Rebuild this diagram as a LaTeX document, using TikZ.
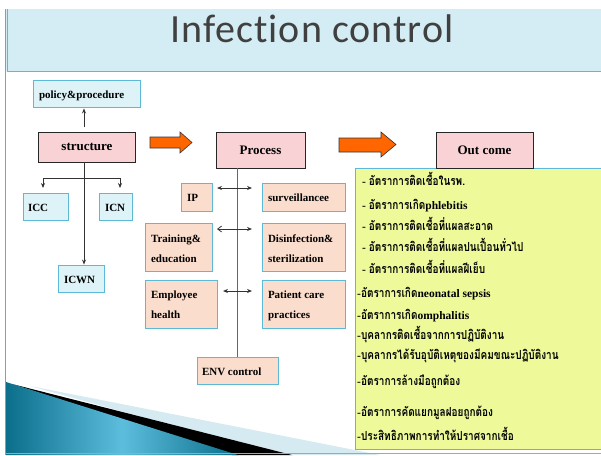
\documentclass[tikz,border=0pt]{standalone}
\usepackage{fontspec}
\setmainfont{Liberation Serif}
\newfontfamily\thaifont[Script=Thai,FakeStretch=0.8]{Loma}
\newfontfamily\titlefont[LetterSpace=2.5,Ligatures={NoCommon,NoRequired,NoContextual}]{Carlito}
\usetikzlibrary{arrows.meta}
\definecolor{bandfill}{HTML}{D4EDF4}
\definecolor{bandline}{HTML}{4EC0D8}
\definecolor{pinkfill}{HTML}{F8D2D5}
\definecolor{bluefill}{HTML}{DDF3F8}
\definecolor{blueline}{HTML}{5DBAD6}
\definecolor{peachfill}{HTML}{FADDCC}
\definecolor{yellowfill}{HTML}{EEFA9A}
\definecolor{orangefill}{HTML}{FF6600}
\definecolor{tealdark}{HTML}{0B6E8B}
\definecolor{teallight}{HTML}{5CBEDC}
\definecolor{swooshlight}{HTML}{D6EAF1}
\definecolor{titlegray}{HTML}{404040}
\tikzset{
  boxtxt/.style={font=\bfseries\fontsize{11}{20}\selectfont, inner sep=0pt, outer sep=0pt},
  pinkbox/.style={draw=black!85, line width=0.9pt, fill=pinkfill, font=\bfseries\fontsize{13}{15}\selectfont, inner sep=0pt},
  bluebox/.style={draw=blueline, line width=0.9pt, fill=bluefill, inner sep=0pt},
  peachbox/.style={draw=blueline, line width=0.9pt, fill=peachfill, inner sep=0pt},
  bigarrow/.style={draw=black!80, line width=0.6pt, fill=orangefill, line join=miter},
  conn/.style={draw=black!80, line width=0.8pt},
  tipd/.style={-{Stealth[length=5pt,width=4pt]}},
  dbl/.style={{Stealth[length=5pt,width=4pt]}-{Stealth[length=5pt,width=4pt]}},
  thline/.style={anchor=base west, inner sep=0pt, font=\bfseries\fontsize{11.5}{13}\selectfont}
}
\newcommand{\thx}[1]{{\thaifont\bfseries\fontsize{12.5}{14}\selectfont #1}}
\begin{document}
\begin{tikzpicture}[x=1pt,y=-1pt]
\useasboundingbox (0,0) rectangle (601,455);
\fill[white] (0,0) rectangle (601,455);
% title band
\fill[bandfill] (6,9) rectangle (601,71);
\draw[bandline, line width=0.9pt] (6.5,71) -- (601,71);
\draw[bandline, line width=0.9pt] (7,9) -- (7,71);
\draw[black!40, line width=1.2pt] (5.5,9) -- (5.5,455);
\node[anchor=base, inner sep=0pt, text=titlegray, font=\titlefont\fontsize{40}{42}\selectfont] (title) at (312,42) {Infection control};

% bottom-left swoosh
\fill[swooshlight] (30,386) -- (380,455) -- (280,455) -- cycle;
\fill[black] (12,384) -- (292,455) -- (232,455) -- cycle;
\shade[left color=tealdark, right color=tealdark, middle color=teallight] (6,382) -- (238,455) -- (6,455) -- cycle;
\draw[black!35, line width=1pt] (6,453.5) -- (601,453.5);

% yellow outcome box
\filldraw[fill=yellowfill, draw=blueline, line width=0.9pt] (355,168.5) rectangle (605,449);

% structure part
\node[bluebox, minimum width=107pt, minimum height=27pt] (policy) at (86.5,94) {};
\node[boxtxt, anchor=base west] (policyt) at (39,98) {policy\&procedure};
\node[pinkbox, minimum width=97pt, minimum height=30pt] (structure) at (87,147) {structure};
\node[bluebox, minimum width=45pt, minimum height=27pt] (icc) at (45.5,206.5) {};
\node[boxtxt, anchor=base west] at (28,211) {ICC};
\node[bluebox, minimum width=33pt, minimum height=27pt] (icn) at (115.5,206.5) {};
\node[boxtxt, anchor=base west] at (105,211) {ICN};
\node[bluebox, minimum width=46pt, minimum height=27pt] (icwn) at (81,278.5) {};
\node[boxtxt, anchor=base west] at (64,283) {ICWN};

\coordinate (sl) at (43,178);
\coordinate (sr) at (120,178);
\draw[conn, tipd, shorten <=5pt, shorten >=0.5pt] (structure.north -| 84,0) -- (policy.south -| 84,0);
\draw[conn, tipd] (structure.south -| 84,0) -- (icwn.north -| 84,0);
\draw[conn] (sl) -- (sr);
\draw[conn, tipd] (sl) -- (43,188);
\draw[conn, tipd] (sr) -- (120,188);

% big arrows
\draw[bigarrow] (150,137) -- (180,137) -- (180,132) -- (192,142.5) -- (180,153) -- (180,148) -- (150,148) -- cycle;
\node[pinkbox, minimum width=89pt, minimum height=36pt] (process) at (260.5,150) {Process};
\draw[bigarrow] (339,138) -- (381,138) -- (381,132) -- (396,144.5) -- (381,157) -- (381,152) -- (339,152) -- cycle;
\node[pinkbox, minimum width=97pt, minimum height=36pt] (outcome) at (484.5,150) {Out come};

% process part
\node[peachbox, minimum width=31pt, minimum height=28pt] (ip) at (196.5,197) {};
\node[boxtxt, anchor=base west] at (187,201) {IP};
\node[peachbox, minimum width=83pt, minimum height=28pt] (surv) at (303.5,197) {};
\node[boxtxt, anchor=base west] at (268,201) {surveillancee};
\node[peachbox, minimum width=67pt, minimum height=48pt] (train) at (178.5,247) {};
\node[boxtxt, anchor=base west, align=left] at (151,262) {Training\&\\education};
\node[peachbox, minimum width=83pt, minimum height=48pt] (disinf) at (303.5,247) {};
\node[boxtxt, anchor=base west, align=left] at (268,262) {Disinfection\&\\sterilization};
\node[peachbox, minimum width=72pt, minimum height=48pt] (emp) at (181,304) {};
\node[boxtxt, anchor=base west, align=left] at (151,318) {Employee\\health};
\node[peachbox, minimum width=83pt, minimum height=48pt] (pat) at (303.5,304) {};
\node[boxtxt, anchor=base west, align=left] at (268,318) {Patient care\\practices};
\node[peachbox, minimum width=81pt, minimum height=27pt] (env) at (237.5,370.5) {};
\node[boxtxt, anchor=base west] at (202,375) {ENV control};

\draw[draw=black!60, line width=1pt] (process.south -| 237,0) -- (env.north -| 237,0);
\coordinate (a1l) at (217,188); \coordinate (a1r) at (252,188);
\coordinate (a2l) at (217,229); \coordinate (a2r) at (252,229);
\coordinate (a3l) at (223,291); \coordinate (a3r) at (252,291);
\draw[conn, dbl] (a1l) -- (a1r);
\draw[conn, {Straight Barb[length=4pt,width=6pt]}-{Stealth[length=5pt,width=4pt]}] (a2l) -- (a2r);
\draw[conn, dbl] (a3l) -- (a3r);

% outcome list
\node[thline] (l1) at (362,185) {- \thx{อัตราการติดเชื้อในรพ.}};
\node[thline] (l2) at (362,209) {- \thx{อัตราการเกิด}phlebitis};
\node[thline] (l3) at (362,230) {- \thx{อัตราการติดเชื้อที่แผลสะอาด}};
\node[thline] (l4) at (362,251) {- \thx{อัตราการติดเชื้อที่แผลปนเปื้อนทั่วไป}};
\node[thline] (l5) at (362,273) {- \thx{อัตราการติดเชื้อที่แผลฝีเย็บ}};
\node[thline] (l6) at (357,297) {-\thx{อัตราการเกิด}neonatal sepsis};
\node[thline] (l7) at (357,319) {-\thx{อัตราการเกิด}omphalitis};
\node[thline] (l8) at (357,339) {-\thx{บุคลากรติดเชื้อจากการปฏิบัติงาน}};
\node[thline] (l9) at (357,359) {-\thx{บุคลากรได้รับอุบัติเหตุของมีคมขณะปฏิบัติงาน}};
\node[thline] (l10) at (357,385) {-\thx{อัตราการล้างมือถูกต้อง}};
\node[thline] (l11) at (357,416) {-\thx{อัตราการคัดแยกมูลฝอยถูกต้อง}};
\node[thline] (l12) at (357,440) {-\thx{ประสิทธิภาพการทำให้ปราศจากเชื้อ}};
\end{tikzpicture}
\end{document}
